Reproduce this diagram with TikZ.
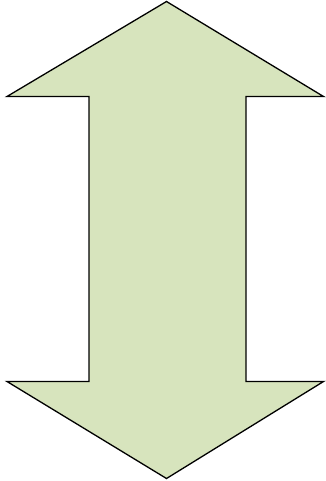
\documentclass[tikz,border=0pt]{standalone}
\usepackage{tikz}
\definecolor{arrowfill}{HTML}{D7E4BD}

\begin{document}
\begin{tikzpicture}[
    x=1pt, y=-1pt,
    bigarrow/.style={draw=black, fill=arrowfill, line width=1.3pt, line join=miter}
]
    \useasboundingbox (0,0) rectangle (325,481);
    % double-headed up/down arrow
    \draw[bigarrow] (166.5,1.5) -- (323.5,96.5) -- (246,96.5) -- (246,381.5)
        -- (323.5,381.5) -- (166.5,478.5) -- (7,381.5) -- (89,381.5)
        -- (89,96.5) -- (7,96.5) -- cycle;
\end{tikzpicture}
\end{document}
